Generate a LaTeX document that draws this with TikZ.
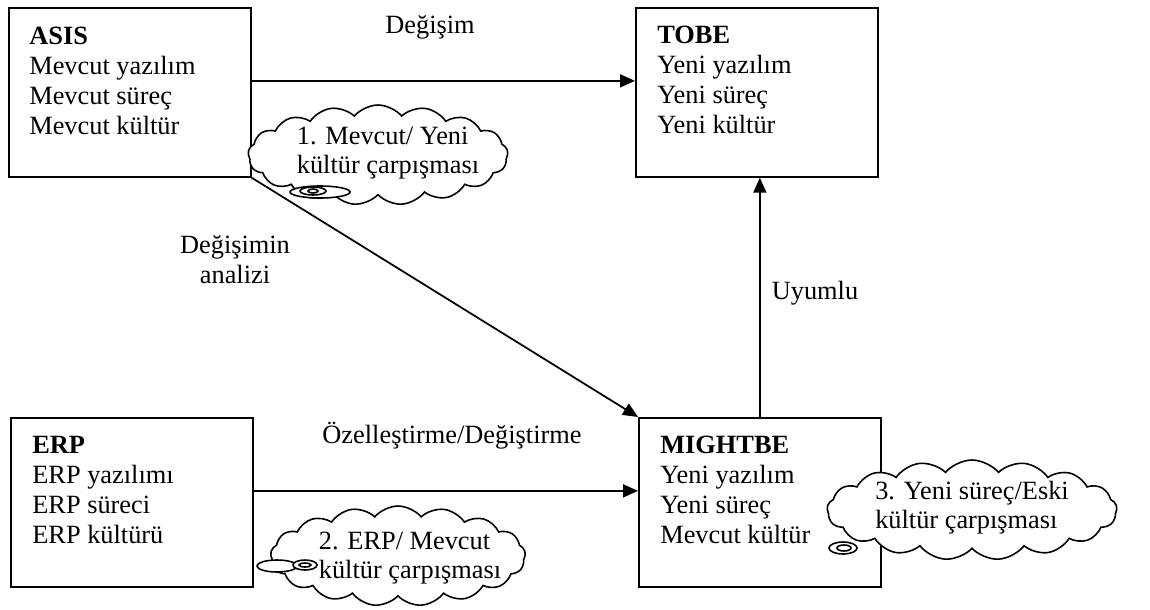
\documentclass[tikz,border=0pt]{standalone}
\usepackage{fontspec}
\setmainfont{Liberation Serif}
\usetikzlibrary{positioning,arrows.meta,shapes.symbols}

\begin{document}
\begin{tikzpicture}[x=0.02cm,y=-0.02cm,
          box/.style={draw,line width=1pt,minimum width=4.84cm,
                      minimum height=3.38cm,anchor=north west,inner sep=0pt},
          boxtxt/.style={anchor=north west,align=left,inner sep=0pt,
                         font=\fontsize{15}{17}\selectfont},
          lbl/.style={align=center,inner sep=0pt,
                      font=\fontsize{15}{17}\selectfont},
          bubble/.style={cloud,draw,fill=white,line width=0.9pt,
                         cloud puffs=17,cloud puff arc=100,
                         cloud ignores aspect,inner sep=0pt,
                         minimum height=2cm},
          bubbletxt/.style={align=left,inner sep=0pt,
                            font=\fontsize{15}{16.5}\selectfont},
          tail/.style={draw,fill=white,line width=0.9pt},
          arr/.style={line width=1pt,-{Triangle[length=0.3cm,width=0.26cm]}}]
        \useasboundingbox (0,0) rectangle (1150,609);
        % the four states
        \node[box] (asis) at (8,7) {};
        \node[boxtxt] (asistxt) at ([xshift=0.42cm,yshift=-0.4cm]asis.north west)
          {\textbf{ASIS}\\Mevcut yazılım\\Mevcut süreç\\Mevcut kültür};
        \node[box] (tobe) at (635,7) {};
        \node[boxtxt] (tobetxt) at ([xshift=0.44cm,yshift=-0.38cm]tobe.north west)
          {\textbf{TOBE}\\Yeni yazılım\\Yeni süreç\\Yeni kültür};
        \node[box] (erp) at (10,417) {};
        \node[boxtxt] (erptxt) at ([xshift=0.44cm,yshift=-0.38cm]erp.north west)
          {\textbf{ERP}\\ERP yazılımı\\ERP süreci\\ERP kültürü};
        \node[box] (mightbe) at (638,417) {};
        \node[boxtxt] (mightbetxt) at ([xshift=0.44cm,yshift=-0.38cm]mightbe.north west)
          {\textbf{MIGHTBE}\\Yeni yazılım\\Yeni süreç\\Mevcut kültür};
        % connectors
        \draw[arr] ([yshift=0.23cm]asis.east) -- ([yshift=0.23cm]tobe.west);
        \draw[arr] ([yshift=0.23cm]erp.east) -- ([yshift=0.23cm]mightbe.west);
        \draw[arr] (asis.south east) -- (mightbe.north west);
        \draw[arr] (mightbe.north) -- (mightbe.north |- tobe.south);
        \node[lbl] (degisim) at (430,27) {Değişim};
        \node[lbl] (analiz) at (235,260) {Değişimin\\analizi};
        \node[lbl] (uyumlu) at (815,293) {Uyumlu};
        \node[lbl] (ozel) at (452,436) {Özelleştirme/Değiştirme};
        % culture clashes
        \node[bubble,minimum width=5.2cm] (clash1) at (378,155) {};
        \node[bubbletxt] (clash1txt) at (388,153) {1. Mevcut/ Yeni\\kültür çarpışması};
        \draw[tail] (320,192) ellipse [x radius=0.6cm,y radius=0.12cm];
        \draw[tail] (313,191) ellipse [x radius=0.26cm,y radius=0.08cm];
        \draw[tail] (313,191) ellipse [x radius=0.1cm,y radius=0.04cm];
        \node[bubble,minimum width=5.1cm] (clash2) at (398,556) {};
        \node[bubbletxt] (clash2txt) at (410,558) {2. ERP/ Mevcut\\kültür çarpışması};
        \draw[tail] (277,566) ellipse [x radius=0.4cm,y radius=0.12cm];
        \draw[tail] (305,565) ellipse [x radius=0.24cm,y radius=0.1cm];
        \draw[tail] (305,565) ellipse [x radius=0.12cm,y radius=0.04cm];
        \node[bubble,minimum width=5.8cm] (clash3) at (972,510) {};
        \node[bubbletxt] (clash3txt) at (972,508) {3. Yeni süreç/Eski\\kültür çarpışması};
        \draw[tail] (843,548) ellipse [x radius=0.28cm,y radius=0.12cm];
        \draw[tail] (844,548) ellipse [x radius=0.14cm,y radius=0.06cm];
      \end{tikzpicture}
\end{document}
